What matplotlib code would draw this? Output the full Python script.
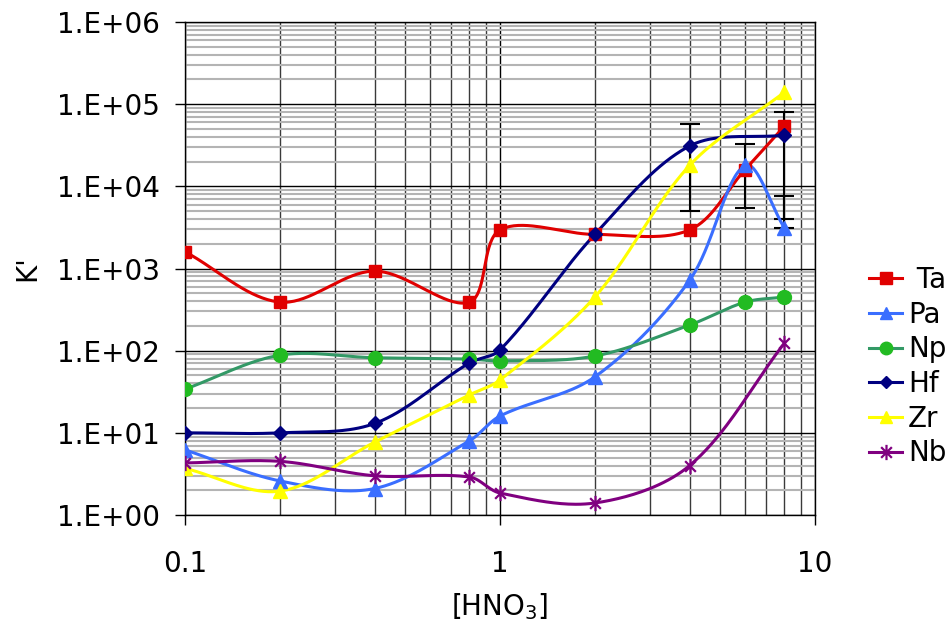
import numpy as np
import matplotlib
matplotlib.use("Agg")
import matplotlib.pyplot as plt
from matplotlib.path import Path
from matplotlib.lines import Line2D
from matplotlib.ticker import FixedLocator, FixedFormatter, NullFormatter, LogLocator

# ---------------- data ----------------
x_all = [0.1, 0.2, 0.4, 0.8, 1, 2, 4, 6, 8]
x_no6 = [0.1, 0.2, 0.4, 0.8, 1, 2, 4, 8]

ta = [1600, 390, 930, 390, 2950, 2600, 2950, 16000, 54000]
pa = [6.2, 2.6, 2.1, 8.0, 16, 48, 720, 18000, 3100]
np_ = [34, 88, 82, 79, 75, 86, 205, 390, 450]
hf = [10, 10, 13, 71, 102, 2600, 31000, 42000]
zr = [3.7, 1.95, 7.7, 29, 44, 450, 18000, 140000]
nb = [4.3, 4.5, 3.0, 2.9, 1.85, 1.4, 4.0, 124]

# error bars (x, value, lower err, upper err)
hf_err_x = [4, 8]
hf_err_y = [31000, 42000]
hf_err_lo = [26000, 38000]
hf_err_hi = [26000, 38000]
pa_err_x = [6, 8]
pa_err_y = [18000, 3100]
pa_err_lo = [12500, 0]
pa_err_hi = [15000, 4500]

x_ticks = [0.1, 1, 10]
x_ticklabels = ["0.1", "1", "10"]
y_ticks = [1, 10, 100, 1e3, 1e4, 1e5, 1e6]
y_ticklabels = ["1.E+00", "1.E+01", "1.E+02", "1.E+03", "1.E+04", "1.E+05", "1.E+06"]

series = [
    (" Ta", x_all, ta, "#e00000", "#e00000", "s", 9),
    ("Pa", x_all, pa, "#3a6eff", "#3a6eff", "^", 10),
    ("Np", x_all, np_, "#339966", "#22bb22", "o", 10),
    ("Hf", x_no6, hf, "#000080", "#000080", "D", 7),
    ("Zr", x_no6, zr, "#ffff00", "#ffff00", "^", 10),
    ("Nb", x_no6, nb, "#800080", "#800080", "star", 11),
]

plt.rcParams['font.family'] = ['DejaVu Sans']

star = Path([(0, -1), (0, 1), (-0.7, -0.7), (0.7, 0.7), (-0.7, 0.7), (0.7, -0.7)],
            [Path.MOVETO, Path.LINETO, Path.MOVETO, Path.LINETO, Path.MOVETO, Path.LINETO])

# pixel scale of one decade on each axis (used only for curve smoothing shape)
SX, SY = 315.0, 493.0 / 6.0


def smooth(xs, ys, n=40):
    P = np.column_stack([np.log10(xs) * SX, np.log10(ys) * SY])
    m = len(P)
    d = np.linalg.norm(np.diff(P, axis=0), axis=1)
    out = [P[0]]
    t = np.linspace(0, 1, n)[1:, None]
    for i in range(m - 1):
        p1, p2 = P[i], P[i + 1]
        if i > 0:
            T1 = P[i + 1] - P[i - 1]
            c1 = p1 + T1 * d[i] / (3.0 * (d[i - 1] + d[i]))
        else:
            c1 = p1 + (p2 - p1) / 3.0
        if i + 2 < m:
            T2 = P[i + 2] - P[i]
            c2 = p2 - T2 * d[i] / (3.0 * (d[i] + d[i + 1]))
        else:
            c2 = p2 - (p2 - p1) / 3.0
        seg = ((1 - t) ** 3) * p1 + 3 * ((1 - t) ** 2) * t * c1 + 3 * (1 - t) * t ** 2 * c2 + t ** 3 * p2
        out.extend(seg)
    out = np.array(out)
    return 10 ** (out[:, 0] / SX), 10 ** (out[:, 1] / SY)


fig = plt.figure(figsize=(9.52, 6.25), dpi=100)
ax = fig.add_axes([185 / 952, 1 - 515 / 625, 630 / 952, 493 / 625])
ax.set_xscale("log")
ax.set_yscale("log")
ax.set_xlim(0.1, 10)
ax.set_ylim(1, 1e6)

# grid
ax.yaxis.set_minor_locator(LogLocator(base=10, subs=np.arange(2, 10)))
ax.xaxis.set_minor_locator(LogLocator(base=10, subs=np.arange(2, 10)))
ax.grid(True, which="minor", axis="y", color="#b4b4b4", lw=1.5)
ax.grid(True, which="minor", axis="x", color="#3a3a3a", lw=1.0)
ax.grid(True, which="major", axis="both", color="black", lw=1.0)
ax.set_axisbelow(True)

handles = []
for name, xs, ys, lc, mc, mk, ms in series:
    sx, sy = smooth(xs, ys)
    ax.plot(sx, sy, color=lc, lw=2.2, zorder=3)
    marker = star if mk == "star" else mk
    if mk == "star":
        ax.plot(xs, ys, ls="none", marker=marker, ms=ms, mec=mc, mfc="none", mew=1.6, zorder=4)
        h = Line2D([], [], color=lc, lw=2.2, marker=marker, ms=ms, mec=mc, mfc="none", mew=1.6)
    else:
        ax.plot(xs, ys, ls="none", marker=marker, ms=ms, mec=mc, mfc=mc, zorder=4)
        h = Line2D([], [], color=lc, lw=2.2, marker=marker, ms=ms * 0.9, mec=mc, mfc=mc)
    handles.append(h)

ax.errorbar(hf_err_x, hf_err_y, yerr=[hf_err_lo, hf_err_hi], fmt="none", ecolor="black",
            elinewidth=1.5, capsize=7, capthick=1.5, zorder=2.5)
ax.errorbar(pa_err_x, pa_err_y, yerr=[pa_err_lo, pa_err_hi], fmt="none", ecolor="black",
            elinewidth=1.5, capsize=7, capthick=1.5, zorder=2.5)

ax.xaxis.set_major_locator(FixedLocator(x_ticks))
ax.xaxis.set_major_formatter(FixedFormatter(x_ticklabels))
ax.xaxis.set_minor_formatter(NullFormatter())
ax.yaxis.set_major_locator(FixedLocator(y_ticks))
ax.yaxis.set_major_formatter(FixedFormatter(y_ticklabels))
ax.yaxis.set_minor_formatter(NullFormatter())
ax.tick_params(which="major", direction="out", length=7, width=1, labelsize=20)
ax.tick_params(axis="y", which="major", pad=11)
ax.tick_params(axis="x", which="major", pad=18)
ax.tick_params(which="minor", length=0)
for s in ax.spines.values():
    s.set_color("black")
    s.set_linewidth(1.0)

ax.set_xlabel("[HNO$_3$]", fontsize=20, labelpad=10)
ax.set_ylabel("K'", fontsize=20, labelpad=11)

fig.legend(handles, [s[0] for s in series], loc="upper left",
           bbox_to_anchor=(858 / 952, 1 - 255 / 625), frameon=False, fontsize=20,
           handlelength=1.2, handletextpad=0.2, labelspacing=0.24, borderaxespad=0)

fig.savefig("out.png", dpi=100)
